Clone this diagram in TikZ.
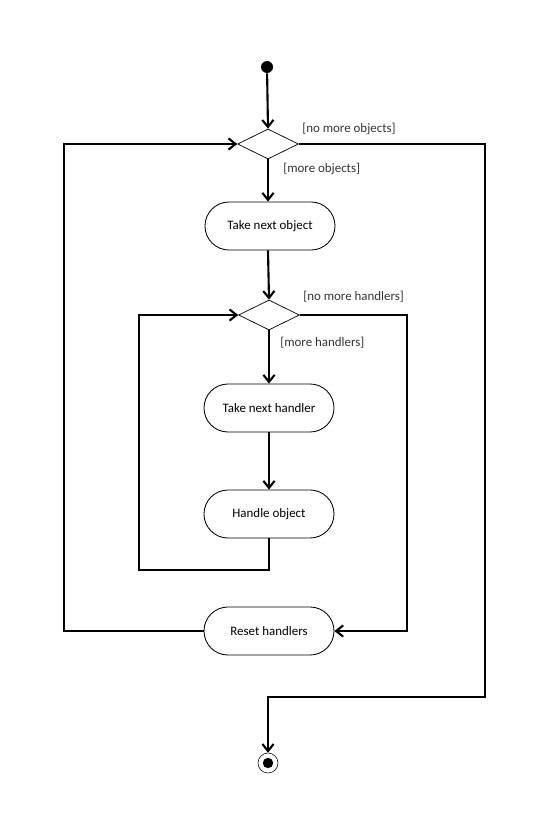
\documentclass[tikz,border=0pt]{standalone}
\usepackage{fontspec}
\setmainfont{Carlito}
\usetikzlibrary{arrows.meta,shapes.geometric,shapes.misc,positioning}

\begin{document}
\begin{tikzpicture}[x=0.025cm, y=-0.025cm,
    font=\fontsize{9.2}{11}\selectfont,
    flow/.style={line width=1.5pt, -{Straight Barb[length=5pt, width=8pt, line width=1.5pt]}},
    line/.style={line width=1.5pt},
    act/.style={rounded rectangle, draw, line width=0.6pt, minimum width=3.25cm, minimum height=1.2cm, inner sep=0pt},
    choice/.style={diamond, draw, line width=0.5pt, minimum width=1.52cm, minimum height=0.75cm, inner sep=0pt},
    guard/.style={anchor=west, inner sep=0pt, text=black!80}]
    \useasboundingbox (0, 0) rectangle (540, 828);

    \node[circle, fill=black, minimum size=0.3cm, inner sep=0pt] (start) at (267, 67) {};
    \node[choice] (dObj) at (268, 144) {};
    \node[act] (takeObj) at (270, 226) {Take next object};
    \node[choice] (dHand) at (269, 315) {};
    \node[act] (takeHand) at (269, 408) {Take next handler};
    \node[act] (handle) at (269, 514) {Handle object};
    \node[act] (reset) at (269, 631) {Reset handlers};
    \node[circle, draw, line width=0.4pt, minimum size=0.5cm, inner sep=0pt] (stop) at (268, 763) {};
    \fill (stop) circle (0.13cm);

    \node[guard] (noObj) at (302, 129) {[no more objects]};
    \node[guard] (moreObj) at (283, 169) {[more objects]};
    \node[guard] (noHand) at (303, 297) {[no more handlers]};
    \node[guard] (moreHand) at (280, 343) {[more handlers]};

    \coordinate (outL) at (64, 144);
    \coordinate (outR) at (485, 697);
    \coordinate (inL) at (139, 570);
    \coordinate (inR) at (407, 631);

    \draw[flow] (start) -- (dObj.north);
    \draw[flow] (dObj.south) -- (dObj.south |- takeObj.north);
    \draw[flow] (takeObj.south -| dObj.south) -- (dHand.north);
    \draw[flow] (dHand.south) -- (dHand.south |- takeHand.north);
    \draw[flow] (takeHand.south) -- (handle.north);
    \draw[flow] (handle.south) |- (inL) |- (dHand.west);
    \draw[flow] (dHand.east) -| (inR) -- (reset.east);
    \draw[flow] (reset.west) -| (outL) -- (dObj.west);
    \draw[flow] (dObj.east) -| (outR) -| (stop.north);
  \end{tikzpicture}
\end{document}
